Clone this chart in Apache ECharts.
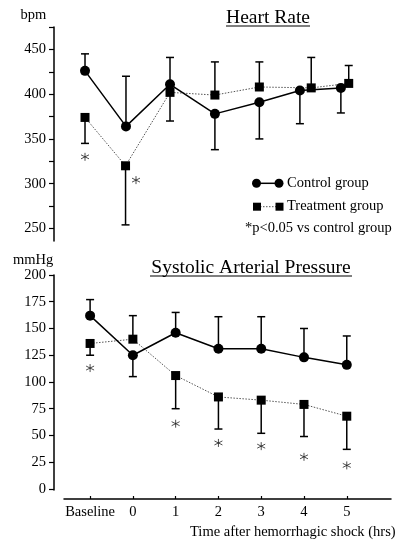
<!DOCTYPE html>
<html>
<head>
<meta charset="utf-8">
<script src="https://cdn.jsdelivr.net/npm/echarts@6/dist/echarts.min.js"></script>
<style>
  html, body { margin: 0; padding: 0; background: #fff; }
  #chart { width: 397px; height: 541px; }
</style>
</head>
<body>
<div id="chart"></div>
<script>
// Time points (hours after hemorrhagic shock); -1 stands for the baseline reading
const categories = ['Baseline', '0', '1', '2', '3', '4', '5'];
const hours = [-1, 0, 1, 2, 3, 4, 5];

// Heart rate (bpm): plotted time positions per group are staggered slightly
const hrControlX = [-1, -0.06, 0.95, 1.98, 3, 3.93, 4.87];
const hrTreatX = [-1, -0.07, 0.95, 1.98, 3, 4.19, 5.05];
const hrControl = [426, 364, 411, 378, 391, 404, 407];
const hrControlSD = [19, 56, 30, 40, 41, 37, 28];
const hrControlDir = [1, 1, 1, -1, -1, -1, -1];
const hrTreat = [374, 320, 402, 399, 408, 407, 412];
const hrTreatSD = [29, 66, 32, 37, 28, 34, 20];
const hrTreatDir = [-1, -1, -1, 1, 1, 1, 1];
const hrStars = [[-1, 330], [0.17, 304]];
const hrTicks = [250, 275, 300, 325, 350, 375, 400, 425, 450, 475];
const hrLabels = [250, 300, 350, 400, 450];

// Systolic arterial pressure (mmHg)
const sapControl = [162, 125, 146, 131, 131, 123, 116];
const sapControlSD = [15, 20, 19, 30, 30, 27, 27];
const sapControlDir = [1, -1, 1, 1, 1, 1, 1];
const sapTreat = [136, 140, 106, 86, 83, 79, 68];
const sapTreatSD = [11, 22, 31, 30, 31, 30, 31];
const sapTreatDir = [-1, 1, -1, -1, -1, -1, -1];
const sapStars = [[-1, 113], [1, 61], [2, 43], [3, 40], [4, 30], [5, 22]];
const sapTicks = [0, 25, 50, 75, 100, 125, 150, 175, 200];

const FONT = 'Liberation Serif';
const INK = '#000';

function pairs(xs, ys) { return xs.map((x, i) => [x, ys[i]]); }
function bars(xs, ys, sd, dir) { return xs.map((x, i) => [x, ys[i], ys[i] + dir[i] * sd[i]]); }

function errorBarItem(params, api) {
  const x = api.value(0), y = api.value(1), e = api.value(2);
  const p0 = api.coord([x, y]);
  const p1 = api.coord([x, e]);
  const st = { stroke: INK, lineWidth: 1.5 };
  return {
    type: 'group',
    children: [
      { type: 'line', shape: { x1: p0[0], y1: p0[1], x2: p1[0], y2: p1[1] }, style: st },
      { type: 'line', shape: { x1: p1[0] - 4, y1: p1[1], x2: p1[0] + 4, y2: p1[1] }, style: st }
    ]
  };
}

function errorSeries(idx, data) {
  return {
    type: 'custom', xAxisIndex: idx, yAxisIndex: idx, z: 1,
    renderItem: errorBarItem, encode: { x: 0, y: [1, 2] }, data: data, silent: true
  };
}
function controlSeries(idx, data) {
  return {
    type: 'line', xAxisIndex: idx, yAxisIndex: idx, z: 3, data: data,
    symbol: 'circle', symbolSize: 10, itemStyle: { color: INK },
    lineStyle: { color: INK, width: 1.5, type: 'solid' }, animation: false
  };
}
function treatSeries(idx, data) {
  return {
    type: 'line', xAxisIndex: idx, yAxisIndex: idx, z: 2, data: data,
    symbol: 'rect', symbolSize: 9, itemStyle: { color: INK },
    lineStyle: { color: '#555', width: 1, type: [1.5, 1.5] }, animation: false
  };
}
// six-spoke asterisk marking p<0.05
const STAR = 'path://M0,-10L0,10M-8.66,-5L8.66,5M-8.66,5L8.66,-5';
function starSeries(idx, data) {
  return {
    type: 'scatter', xAxisIndex: idx, yAxisIndex: idx, z: 4, data: data,
    symbol: STAR, symbolSize: 8,
    itemStyle: { color: 'none', borderColor: '#222', borderWidth: 1 }, animation: false
  };
}

const labelStyle = { fontFamily: FONT, fontSize: 14.5, color: INK };

function yAxis(min, max, ticks, labels) {
  return {
    type: 'value', min: min, max: max, offset: 10,
    splitLine: { show: false },
    axisLine: { show: true, onZero: false, lineStyle: { color: INK, width: 1.5 } },
    axisTick: { show: true, length: 5, customValues: ticks, lineStyle: { color: INK, width: 1.2 } },
    axisLabel: Object.assign({ margin: 8, customValues: labels }, labelStyle)
  };
}

function text(str, x, y, size, align) {
  return {
    type: 'text', x: x, y: y,
    style: { text: str, fontFamily: FONT, fontSize: size, fill: INK, align: align || 'left', verticalAlign: 'middle' }
  };
}
function hline(x1, x2, y, width, dash) {
  return {
    type: 'line', shape: { x1: x1, y1: y, x2: x2, y2: y },
    style: { stroke: dash ? '#555' : INK, lineWidth: width, lineDash: dash || null }
  };
}

const chart = echarts.init(document.getElementById('chart'), null, { renderer: 'canvas' });

chart.setOption({
  animation: false,
  backgroundColor: '#fff',
  grid: [
    { left: 64, right: 6, top: 27, height: 214 },
    { left: 64, right: 6, top: 275, height: 215 }
  ],
  xAxis: [
    { type: 'value', gridIndex: 0, min: -1.482, max: 6.02, show: false },
    {
      type: 'value', gridIndex: 1, min: -1.61, max: 6.034, offset: 9,
      splitLine: { show: false },
      axisLine: { show: true, onZero: false, lineStyle: { color: INK, width: 1.5 } },
      axisTick: { show: true, inside: true, length: 3, customValues: hours, lineStyle: { color: INK, width: 1.2 } },
      axisLabel: Object.assign({
        margin: 6, customValues: hours,
        formatter: v => categories[hours.indexOf(Math.round(v))]
      }, labelStyle)
    }
  ],
  yAxis: [
    Object.assign(yAxis(236, 475, hrTicks, hrLabels), { gridIndex: 0 }),
    Object.assign(yAxis(-1, 200, sapTicks, sapTicks), { gridIndex: 1 })
  ],
  series: [
    errorSeries(0, bars(hrControlX, hrControl, hrControlSD, hrControlDir)),
    errorSeries(0, bars(hrTreatX, hrTreat, hrTreatSD, hrTreatDir)),
    treatSeries(0, pairs(hrTreatX, hrTreat)),
    controlSeries(0, pairs(hrControlX, hrControl)),
    starSeries(0, hrStars),

    errorSeries(1, bars(hours, sapControl, sapControlSD, sapControlDir)),
    errorSeries(1, bars(hours, sapTreat, sapTreatSD, sapTreatDir)),
    treatSeries(1, pairs(hours, sapTreat)),
    controlSeries(1, pairs(hours, sapControl)),
    starSeries(1, sapStars)
  ],
  graphic: [
    // panel titles with underline
    text('Heart Rate', 268, 18, 19.5, 'center'),
    hline(226, 310, 26, 1.2),
    text('Systolic Arterial Pressure', 251, 267.5, 19.5, 'center'),
    hline(150, 352, 276, 1.2),
    // unit labels
    text('bpm', 20.5, 15, 14.5),
    text('mmHg', 13, 260, 14.5),
    // x-axis title
    text('Time after hemorrhagic shock (hrs)', 190, 532.5, 14.5),
    // legend
    hline(256.5, 279, 183.3, 1.5),
    { type: 'circle', shape: { cx: 256.5, cy: 183.3, r: 4.5 }, style: { fill: INK } },
    { type: 'circle', shape: { cx: 279, cy: 183.3, r: 4.5 }, style: { fill: INK } },
    text('Control group', 287, 183.3, 14.5),
    hline(257, 279.5, 206.7, 1, [1.5, 1.5]),
    { type: 'rect', shape: { x: 253, y: 202.7, width: 8, height: 8 }, style: { fill: INK } },
    { type: 'rect', shape: { x: 275.5, y: 202.7, width: 8, height: 8 }, style: { fill: INK } },
    text('Treatment group', 287, 206.2, 14.5),
    text('*p<0.05 vs control group', 245, 228.5, 14.5)
  ]
});
</script>
</body>
</html>
